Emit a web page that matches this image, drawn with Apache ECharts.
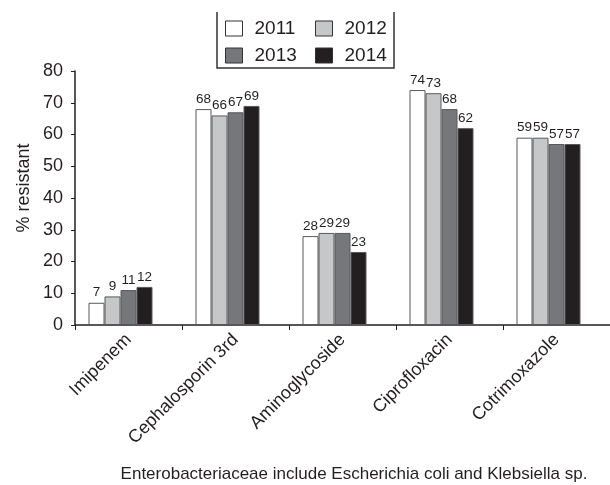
<!DOCTYPE html>
<html>
<head>
<meta charset="utf-8">
<script src="https://cdn.jsdelivr.net/npm/echarts@6/dist/echarts.min.js"></script>
<style>
  html, body { margin: 0; padding: 0; background: #fff; }
  #chart { width: 610px; height: 485px; }
</style>
</head>
<body>
<div id="chart"></div>
<script>
// Antibiotic classes along the x axis
const categories = ['Imipenem', 'Cephalosporin 3rd', 'Aminoglycoside', 'Ciprofloxacin', 'Cotrimoxazole'];

// Percentage of resistant isolates per year
const years = ['2011', '2012', '2013', '2014'];
const values2011 = [7, 68, 28, 74, 59];
const values2012 = [9, 66, 29, 73, 59];
const values2013 = [11, 67, 29, 68, 57];
const values2014 = [12, 69, 23, 62, 57];

const yTicks = { min: 0, max: 80, interval: 10 };

const FONT = '"Liberation Sans", Arial, Helvetica, sans-serif';
const fills = ['#ffffff', '#c6c7c9', '#76777a', '#231f20'];
const seriesValues = [values2011, values2012, values2013, values2014];

const series = years.map((y, i) => ({
  name: y,
  type: 'bar',
  data: seriesValues[i],
  barWidth: 16,
  barGap: '0%',
  itemStyle: { color: fills[i], borderColor: '#58595b', borderWidth: 1 },
  label: {
    show: true,
    position: 'top',
    distance: 3,
    color: '#231f20',
    fontFamily: FONT,
    fontSize: 13.5
  },
  emphasis: { disabled: true }
}));
// empty slot to the right of each group keeps the four bars left of the category centre
series.push({
  name: 'gap',
  type: 'bar',
  data: categories.map(() => null),
  barWidth: 16,
  barGap: '0%',
  silent: true
});

const legendCommon = {
  orient: 'vertical',
  top: 14,
  icon: 'rect',
  itemWidth: 17, itemHeight: 15, itemGap: 8,
  itemStyle: { borderColor: '#333333', borderWidth: 1 },
  textStyle: { fontFamily: FONT, fontSize: 19, color: '#231f20', padding: [0, 0, 0, 7] },
  selectedMode: false
};

const chart = echarts.init(document.getElementById('chart'), null, { renderer: 'canvas' });
chart.setOption({
  animation: false,
  backgroundColor: '#ffffff',
  grid: { left: 75, top: 71, right: 0, bottom: 160, containLabel: false },
  legend: [
    Object.assign({ data: ['2011', '2013'], left: 220 }, legendCommon),
    Object.assign({ data: ['2012', '2014'], left: 310 }, legendCommon)
  ],
  xAxis: {
    type: 'category',
    data: categories,
    boundaryGap: true,
    axisLine: { lineStyle: { color: '#231f20', width: 1.5 } },
    axisTick: { show: true, length: 5, lineStyle: { color: '#231f20' } },
    axisLabel: {
      rotate: 45,
      margin: 12,
      interval: 0,
      color: '#231f20',
      fontFamily: FONT,
      fontSize: 18
    },
    splitLine: { show: false }
  },
  yAxis: {
    type: 'value',
    min: yTicks.min,
    max: yTicks.max,
    interval: yTicks.interval,
    axisLine: { show: true, lineStyle: { color: '#231f20', width: 1.5 } },
    axisTick: { show: true, length: 4, lineStyle: { color: '#231f20' } },
    axisLabel: { margin: 12, color: '#231f20', fontFamily: FONT, fontSize: 18 },
    splitLine: { show: false }
  },
  graphic: [
    {
      type: 'polyline',
      shape: { points: [[217, 12], [217, 68], [394, 68], [394, 12]] },
      style: { stroke: '#333333', lineWidth: 1.5, fill: null },
      silent: true
    },
    {
      type: 'text',
      x: 24, y: 188,
      rotation: Math.PI / 2,
      style: {
        text: '% resistant',
        fill: '#231f20',
        font: '18px ' + FONT,
        align: 'center',
        verticalAlign: 'middle'
      },
      silent: true
    },
    {
      type: 'text',
      x: 354, y: 474,
      style: {
        text: 'Enterobacteriaceae include Escherichia coli and Klebsiella sp.',
        fill: '#231f20',
        font: '17px ' + FONT,
        align: 'center',
        verticalAlign: 'middle'
      },
      silent: true
    }
  ],
  series: series
});
</script>
</body>
</html>
